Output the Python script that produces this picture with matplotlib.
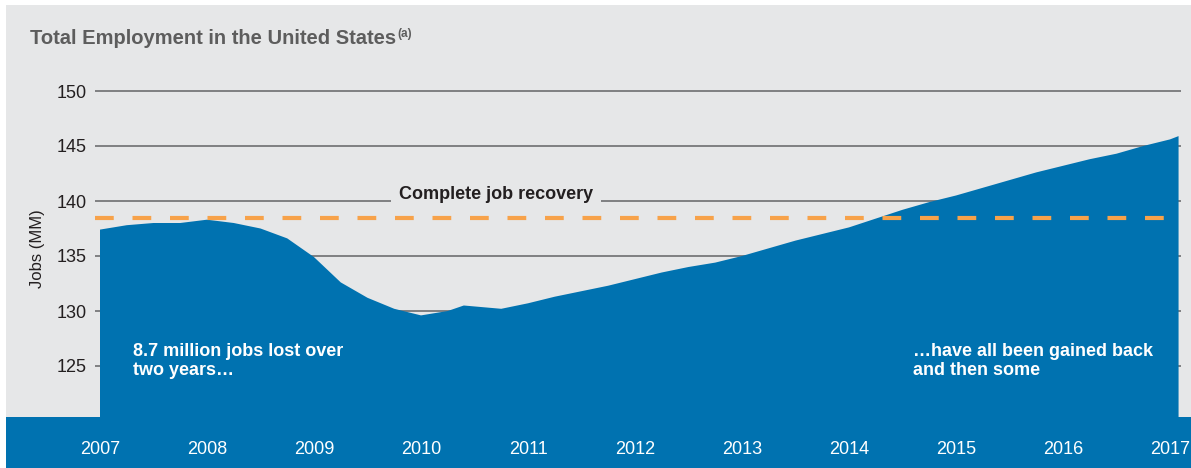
import numpy as np
import matplotlib.pyplot as plt
from matplotlib.patches import Rectangle

plt.rcParams['font.family'] = ['Liberation Sans Narrow', 'Liberation Sans', 'DejaVu Sans']

# quarterly readings of total employment (millions)
dates = [2007.00, 2007.25, 2007.50, 2007.75, 2008.00, 2008.25, 2008.50, 2008.75,
         2009.00, 2009.25, 2009.50, 2009.75, 2010.00, 2010.25, 2010.40, 2010.75,
         2011.00, 2011.25, 2011.50, 2011.75, 2012.00, 2012.25, 2012.50, 2012.75,
         2013.00, 2013.25, 2013.50, 2013.75, 2014.00, 2014.25, 2014.50, 2014.75,
         2015.00, 2015.25, 2015.50, 2015.75, 2016.00, 2016.25, 2016.50, 2016.75,
         2017.00, 2017.08]
jobs = [137.4, 137.8, 138.0, 138.0, 138.3, 138.0, 137.5, 136.6,
        134.9, 132.6, 131.2, 130.2, 129.6, 130.0, 130.5, 130.2,
        130.7, 131.3, 131.8, 132.3, 132.9, 133.5, 134.0, 134.4,
        135.0, 135.7, 136.4, 137.0, 137.6, 138.4, 139.2, 139.9,
        140.5, 141.2, 141.9, 142.6, 143.2, 143.8, 144.3, 145.0,
        145.6, 145.9]
recovery_level = 138.45
years = list(range(2007, 2018))
yticks = [125, 130, 135, 140, 145, 150]

W, H = 1191, 468
fig = plt.figure(figsize=(W / 100, H / 100), dpi=100)
fig.patch.set_facecolor('white')

gray = '#e6e7e8'
blue = '#0072b0'

def fx(px):
    return px / W

def fy(py):
    return 1 - py / H

# background panel and bottom band
fig.add_artist(Rectangle((fx(6), fy(418)), fx(W - 6), fy(5) - fy(418),
                         transform=fig.transFigure, facecolor=gray, edgecolor='none', zorder=0))
fig.add_artist(Rectangle((fx(6), 0), fx(W - 6), fy(417),
                         transform=fig.transFigure, facecolor=blue, edgecolor='none', zorder=0))

ax = fig.add_axes([fx(95), fy(417), fx(1181 - 95), fy(80) - fy(417)])
ax.set_facecolor('none')
ax.set_xlim(2007 - 5 / 107, 2007 + 1081 / 107)
ax.set_ylim(125 - 51 / 11, 151)
for s in ax.spines.values():
    s.set_visible(False)

for v in yticks:
    ax.axhline(v, color='#6d6e70', lw=1.2, zorder=1)

ax.fill_between(dates, jobs, 0, color=blue, lw=0, zorder=2)
ax.axhline(recovery_level, color='#f7a24a', lw=3, ls=(0, (4.5, 4.5)), zorder=3)

ax.set_yticks(yticks)
ax.set_yticklabels([str(v) for v in yticks], fontsize=13, color='#231f20')
ax.set_xticks(years)
ax.set_xticklabels([str(y) for y in years], fontsize=13, color='white')
ax.tick_params(axis='y', length=0, pad=6)
ax.tick_params(axis='x', length=0, pad=17)
ax.set_ylabel('Jobs (MM)', fontsize=12, color='#231f20', labelpad=8)

ax.text(2010.7, 140.55, 'Complete job recovery', fontsize=13, fontweight='bold',
        color='#231f20', ha='center', va='center', zorder=4,
        bbox=dict(boxstyle='square,pad=0.45', facecolor=gray, edgecolor='none'))

ax.text(2007.31, 127.1, '8.7 million jobs lost over\ntwo years…', fontsize=13,
        fontweight='bold', color='white', ha='left', va='top', linespacing=1.15, zorder=4)
ax.text(2014.6, 127.1, '…have all been gained back\nand then some', fontsize=13,
        fontweight='bold', color='white', ha='left', va='top', linespacing=1.15, zorder=4)

t = fig.text(fx(30), fy(44), 'Total Employment in the United States', fontsize=14.5,
             fontweight='bold', color='#5d5d5d', ha='left', va='baseline')
fig.canvas.draw()
bb = t.get_window_extent()
fig.text(bb.x1 / W + fx(1), fy(37), '(a)', fontsize=8.5, fontweight='bold',
         color='#5d5d5d', ha='left', va='baseline')

fig.savefig('out.png', dpi=100, facecolor='white')
